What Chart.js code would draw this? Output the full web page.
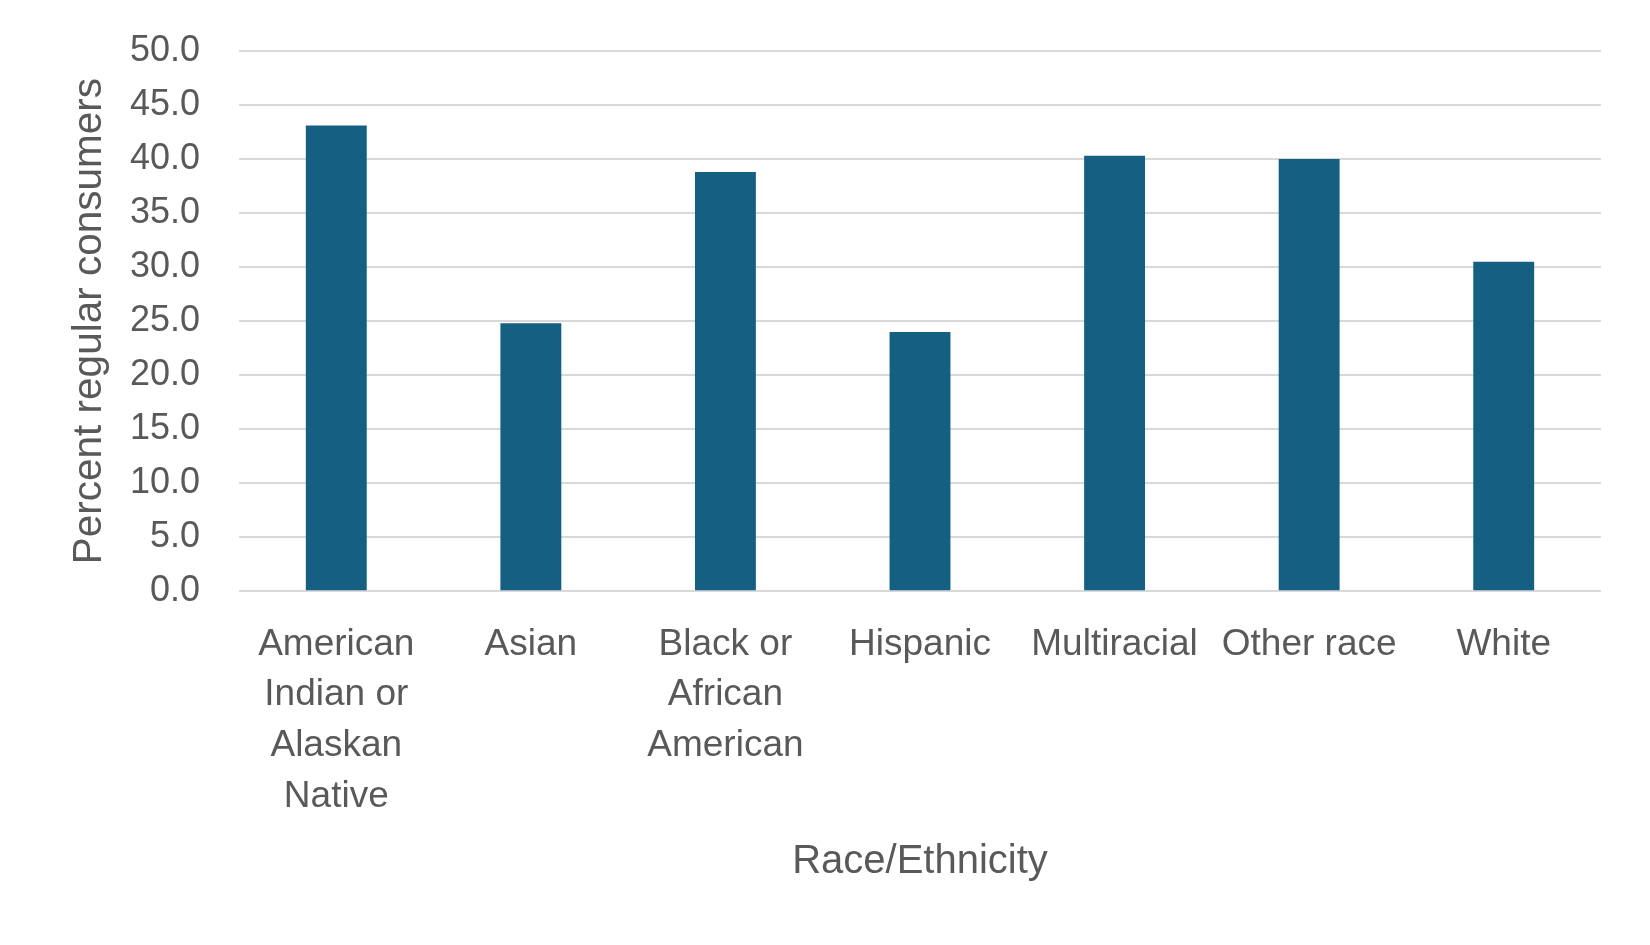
<!DOCTYPE html>
<html>
<head>
<meta charset="utf-8">
<script src="https://cdn.jsdelivr.net/npm/chart.js@4"></script>
<style>
  html, body { margin: 0; padding: 0; background: #ffffff; }
  #wrap { width: 1650px; height: 945px; }
</style>
</head>
<body>
<div id="wrap"><canvas id="c" width="1650" height="945"></canvas></div>
<script>
const categories = [
  ["American", "Indian or", "Alaskan", "Native"],
  "Asian",
  ["Black or", "African", "American"],
  "Hispanic",
  "Multiracial",
  "Other race",
  "White"
];
const percentRegular = [43.1, 24.8, 38.8, 24.0, 40.3, 40.0, 30.5];
const yTitle = "Percent regular consumers";
const xTitle = "Race/Ethnicity";
const yMin = 0, yMax = 50, yStep = 5;

const textColor = "#595959";
const fontFamily = "'Liberation Sans', Arial, sans-serif";

new Chart(document.getElementById("c"), {
  type: "bar",
  data: {
    labels: categories,
    datasets: [{
      data: percentRegular,
      backgroundColor: "#156082",
      borderWidth: 0,
      categoryPercentage: 1.0,
      barPercentage: 0.313
    }]
  },
  options: {
    responsive: false,
    animation: false,
    devicePixelRatio: 1,
    layout: { padding: { left: 66, right: 49, top: 51, bottom: 59 } },
    plugins: { legend: { display: false }, tooltip: { enabled: false } },
    scales: {
      x: {
        grid: { display: false, drawTicks: false },
        border: { display: false },
        ticks: {
          color: textColor,
          font: { family: fontFamily, size: 37, lineHeight: 1.37 },
          padding: 28,
          autoSkip: false,
          maxRotation: 0,
          minRotation: 0
        },
        title: {
          display: true,
          text: xTitle,
          color: textColor,
          font: { family: fontFamily, size: 40, lineHeight: 1.2 },
          padding: { top: -12, bottom: 0 }
        }
      },
      y: {
        min: yMin,
        max: yMax,
        grid: { color: "#d9d9d9", lineWidth: 2, drawTicks: false },
        border: { display: false },
        ticks: {
          stepSize: yStep,
          color: textColor,
          font: { family: fontFamily, size: 36 },
          padding: 39,
          callback: v => Number(v).toFixed(1)
        },
        title: {
          display: true,
          text: yTitle,
          color: textColor,
          font: { family: fontFamily, size: 40.5, lineHeight: 1.2 },
          padding: { top: 0, bottom: 0 }
        },
        afterFit: s => { s.width = 173; s.paddingTop = 0; s.paddingBottom = 0; }
      }
    }
  }
});
</script>
</body>
</html>
